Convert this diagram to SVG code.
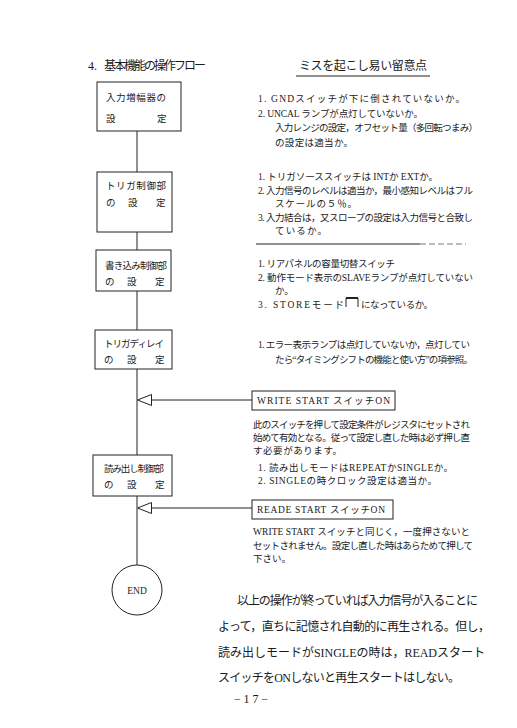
<svg xmlns="http://www.w3.org/2000/svg" width="517" height="728" viewBox="0 0 517 728">
<style>
text{font-family:"Liberation Serif","Noto Sans CJK JP",serif;fill:#1a1a1a}
.n{font-size:9.5px}
.b{font-size:9.5px}
.t{font-size:12px}
.p{font-size:12px}
.box{fill:#fff;stroke:#222;stroke-width:1}
.ln{fill:none;stroke:#222;stroke-width:1}
</style>
<defs>
<marker id="ah" viewBox="0 0 14 12" refX="14" refY="6" markerWidth="14" markerHeight="12" markerUnits="userSpaceOnUse" orient="auto">
<path d="M0,0.5 L14,6 L0,11.5 Z" fill="#fff" stroke="#222" stroke-width="1"/>
</marker>
</defs>
<rect width="517" height="728" fill="#fff"/>
<text class="t" x="88" y="70">4.</text>
<text class="t" x="104" y="70" textLength="102">基本機能の操作フロー</text>
<text class="t" x="299" y="70" textLength="128">ミスを起こし易い留意点</text>
<line class="ln" x1="296" y1="76" x2="430" y2="76"/>

<g id="connectors">
<line class="ln" x1="137" y1="131" x2="137" y2="565"/>
<line class="ln" x1="252" y1="400" x2="137.5" y2="400" marker-end="url(#ah)"/>
<line class="ln" x1="252" y1="508" x2="137.5" y2="508" marker-end="url(#ah)"/>
</g>

<g id="n1">
<rect class="box" x="97" y="82" width="84" height="49"/>
<text class="b" x="106" y="101" textLength="60">入力増幅器の</text>
<text class="b" x="106" y="122">設</text><text class="b" x="157" y="122">定</text>
</g>
<g id="n2">
<rect class="box" x="97" y="172" width="75" height="60"/>
<text class="b" x="106" y="189" textLength="60">トリガ制御部</text>
<text class="b" x="106" y="206">の</text><text class="b" x="128" y="206">設</text><text class="b" x="156" y="206">定</text>
</g>
<g id="n3">
<rect class="box" x="96" y="250" width="75" height="41"/>
<text class="b" x="105" y="269" textLength="62">書き込み制御部</text>
<text class="b" x="105" y="285">の</text><text class="b" x="127" y="285">設</text><text class="b" x="155" y="285">定</text>
</g>
<g id="n4">
<rect class="box" x="95" y="330" width="77" height="39"/>
<text class="b" x="104" y="347" textLength="60">トリガディレイ</text>
<text class="b" x="104" y="363">の</text><text class="b" x="127" y="363">設</text><text class="b" x="155" y="363">定</text>
</g>
<g id="n5">
<rect class="box" x="93" y="455" width="79" height="41"/>
<text class="b" x="104" y="472" textLength="60">読み出し制御部</text>
<text class="b" x="104" y="488">の</text><text class="b" x="127" y="488">設</text><text class="b" x="155" y="488">定</text>
</g>
<g id="n6">
<circle class="box" cx="137" cy="590" r="25"/>
<text class="b" x="137" y="594" text-anchor="middle" font-size="10">END</text>
</g>
<g id="w1">
<rect class="box" x="252" y="391" width="143" height="19"/>
<text class="n" x="257" y="404" textLength="133">WRITE  START スイッチON</text>
</g>
<g id="w2">
<rect class="box" x="252" y="500" width="141" height="19"/>
<text class="n" x="257" y="513" textLength="128">READE  START スイッチON</text>
</g>

<text class="n" x="258" y="102" textLength="207">1.  GNDスイッチが下に倒されていないか。</text>
<text class="n" x="258" y="117" textLength="165">2.  UNCAL ランプが点灯していないか。</text>
<text class="n" x="275" y="131" textLength="203">入力レンジの設定，オフセット量（多回転つまみ）</text>
<text class="n" x="275" y="146" textLength="78">の設定は適当か。</text>

<text class="n" x="258" y="180" textLength="180">1.  トリガソーススイッチは INTか EXTか。</text>
<text class="n" x="258" y="194" textLength="215">2.  入力信号のレベルは適当か，最小感知レベルはフル</text>
<text class="n" x="275" y="207" textLength="82">スケールの５％。</text>
<text class="n" x="258" y="221" textLength="215">3.  入力結合は，又スロープの設定は入力信号と合致し</text>
<text class="n" x="275" y="234" textLength="52">ているか。</text>
<line class="ln" x1="256" y1="244" x2="420" y2="244"/>
<line x1="420" y1="244" x2="466" y2="244" stroke="#555" stroke-width="0.8" stroke-dasharray="6,3"/>

<text class="n" x="258" y="267" textLength="137">1.  リアパネルの容量切替スイッチ</text>
<text class="n" x="258" y="281" textLength="215">2.  動作モード表示のSLAVEランプが点灯していない</text>
<text class="n" x="275" y="294">か。</text>
<text class="n" x="258" y="308" textLength="86">3.  STOREモード</text>
<path class="ln" d="M346,307 V298 H358 V307"/>
<line x1="346" y1="298" x2="358" y2="298" stroke="#222" stroke-width="2"/>
<text class="n" x="361" y="308" textLength="72">になっているか。</text>

<text class="n" x="258" y="348" textLength="212">1.  エラー表示ランプは点灯していないか，点灯してい</text>
<text class="n" x="275" y="363" textLength="198">たら“タイミングシフトの機能と使い方”の項参照。</text>

<text class="n" x="253" y="428" textLength="217">此のスイッチを押して設定条件がレジスタにセットされ</text>
<text class="n" x="253" y="441" textLength="217">始めて有効となる。従って設定し直した時は必ず押し直</text>
<text class="n" x="253" y="454" textLength="89">す必要があります。</text>

<text class="n" x="258" y="471" textLength="195">1.  読み出しモードはREPEATかSINGLEか。</text>
<text class="n" x="258" y="484" textLength="179">2.  SINGLEの時クロック設定は適当か。</text>

<text class="n" x="253" y="535" textLength="217">WRITE  START スイッチと同じく，一度押さないと</text>
<text class="n" x="253" y="549" textLength="220">セットされません。設定し直した時はあらためて押して</text>
<text class="n" x="253" y="562">下さい。</text>

<text class="p" x="237" y="605" textLength="241">以上の操作が終っていれば入力信号が入ることに</text>
<text class="p" x="218" y="631" textLength="272">よって，直ちに記憶され自動的に再生される。但し，</text>
<text class="p" x="218" y="657" textLength="267">読み出しモードがSINGLEの時は，READスタート</text>
<text class="p" x="218" y="682" textLength="242">スイッチをONしないと再生スタートはしない。</text>
<text class="p" x="234" y="703" textLength="34">−17−</text>
</svg>
